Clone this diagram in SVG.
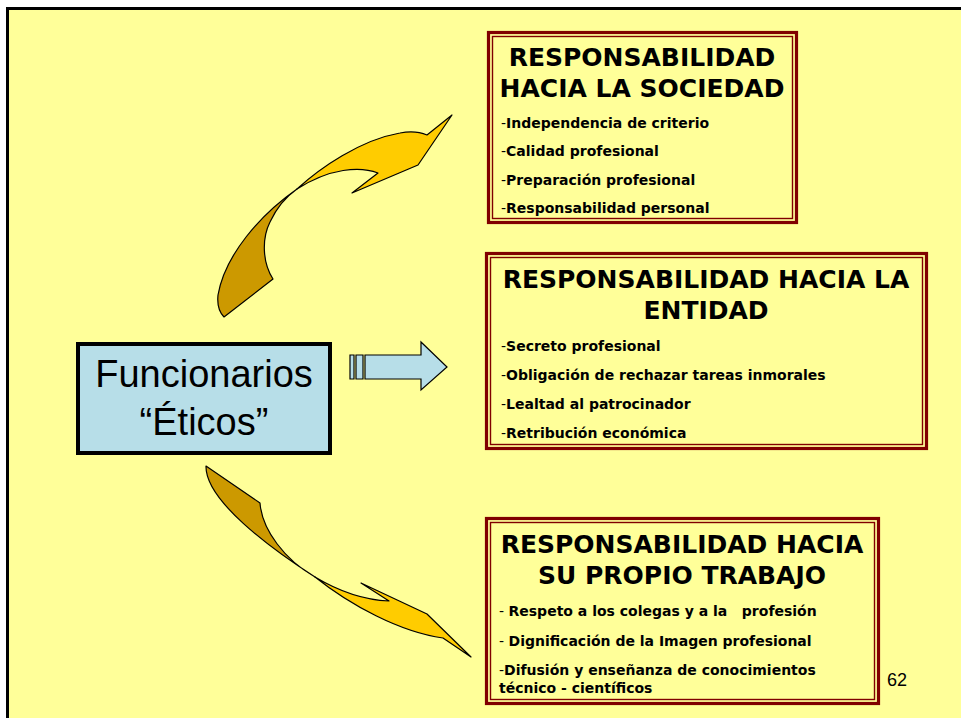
<svg xmlns="http://www.w3.org/2000/svg" width="961" height="718" viewBox="0 0 961 718">
<style>
.frame{fill:#FFFF99;stroke:#000;stroke-width:3}
.boxo{fill:#FFFF99;stroke:#800000;stroke-width:3.2}
.boxi{fill:none;stroke:#800000;stroke-width:1.4}
.title{font-family:"DejaVu Sans",Verdana,sans-serif;font-weight:bold;font-size:25px;fill:#000;text-anchor:middle}
.item{font-family:"DejaVu Sans",Verdana,sans-serif;font-weight:bold;font-size:14px;fill:#000}
.thin{font-weight:normal}
.big{font-family:"Liberation Sans",Arial,sans-serif;font-size:38px;fill:#000;text-anchor:middle}
.num{font-family:"Liberation Sans",Arial,sans-serif;font-size:18px;fill:#000}
.light{fill:#FFCC00;stroke:#000;stroke-width:1.2;stroke-linejoin:round}
.dark{fill:#CC9900;stroke:#000;stroke-width:1.2;stroke-linejoin:round}
.blue{fill:#B7DEE8;stroke:#000;stroke-width:1.2}
</style>
<rect x="0" y="0" width="961" height="718" fill="#fff"/>
<rect class="frame" x="7.5" y="8.5" width="1000" height="1000"/>

<g id="funcionarios">
<rect x="78" y="344" width="252" height="109" fill="#B7DEE8" stroke="#000" stroke-width="4"/>
<text class="big" x="204" y="387">Funcionarios</text>
<text class="big" x="204" y="435">“Éticos”</text>
</g>

<g id="sociedad">
<rect class="boxo" x="488.5" y="32.5" width="308" height="190"/>
<rect class="boxi" x="492.5" y="36.5" width="300" height="182"/>
<text class="title" x="642" y="66">RESPONSABILIDAD</text>
<text class="title" x="642" y="97">HACIA LA SOCIEDAD</text>
<text class="item" x="501" y="128"><tspan class="thin">-</tspan>Independencia de criterio</text>
<text class="item" x="501" y="156"><tspan class="thin">-</tspan>Calidad profesional</text>
<text class="item" x="501" y="185"><tspan class="thin">-</tspan>Preparación profesional</text>
<text class="item" x="501" y="213"><tspan class="thin">-</tspan>Responsabilidad personal</text>
</g>

<g id="entidad">
<rect class="boxo" x="486.5" y="253.5" width="440" height="195"/>
<rect class="boxi" x="490.5" y="257.5" width="432" height="187"/>
<text class="title" x="706" y="288">RESPONSABILIDAD HACIA LA</text>
<text class="title" x="706" y="319">ENTIDAD</text>
<text class="item" x="501" y="351"><tspan class="thin">-</tspan>Secreto profesional</text>
<text class="item" x="501" y="380"><tspan class="thin">-</tspan>Obligación de rechazar tareas inmorales</text>
<text class="item" x="501" y="409"><tspan class="thin">-</tspan>Lealtad al patrocinador</text>
<text class="item" x="501" y="438"><tspan class="thin">-</tspan>Retribución económica</text>
</g>

<g id="trabajo">
<rect class="boxo" x="486.5" y="518.5" width="392" height="185"/>
<rect class="boxi" x="490.5" y="522.5" width="384" height="177"/>
<text class="title" x="682" y="553">RESPONSABILIDAD HACIA</text>
<text class="title" x="682" y="584">SU PROPIO TRABAJO</text>
<text class="item" x="499" y="616" xml:space="preserve"><tspan class="thin">- </tspan>Respeto a los colegas y a la   profesión</text>
<text class="item" x="499" y="646" xml:space="preserve"><tspan class="thin">- </tspan>Dignificación de la Imagen profesional</text>
<text class="item" x="499" y="675"><tspan class="thin">-</tspan>Difusión y enseñanza de conocimientos</text>
<text class="item" x="499" y="693">técnico - científicos</text>
</g>

<text class="num" x="887" y="686">62</text>

<g id="connectors">
<path class="dark" d="M 297,189 C 260,215 225,255 218,295 C 217,305 219,312 224,317 L 273,279 C 262,262 262,238 270,222 C 277,207 287,196 297,189 Z"/>
<path class="light" d="M 297,189 C 320,168 360,140 400,133 C 410,131 420,132 427,135 L 452,115 L 418,165 L 352,193 L 378,173 C 360,166 330,168 297,189 Z"/>
<path class="blue" d="M 350,355 H 354 V 379 H 350 Z M 356,355 H 363 V 379 H 356 Z M 365,355 H 421 V 342 L 447,367 L 421,390 V 379 H 365 Z"/>
<path class="dark" d="M 206,466 L 260,503 C 262,530 285,560 315,577 C 270,548 205,500 206,466 Z"/>
<path class="light" d="M 315,577 C 350,605 400,632 443,638 L 471,657 L 427,614 L 361,583 L 389,601 C 365,600 340,592 315,577 Z"/>
</g>
</svg>
